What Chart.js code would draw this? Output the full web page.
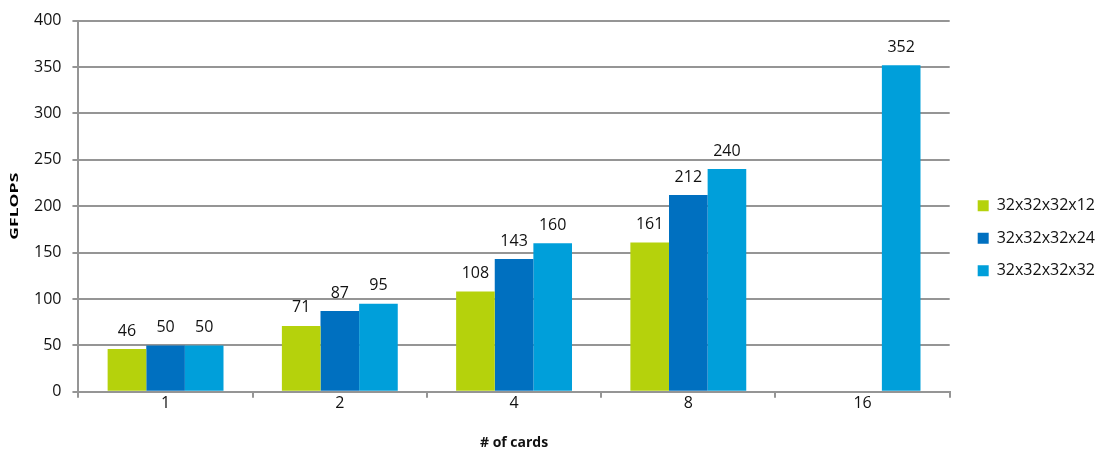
<!DOCTYPE html>
<html>
<head>
<meta charset="utf-8">
<script src="https://cdn.jsdelivr.net/npm/chart.js@4/dist/chart.umd.min.js"></script>
<style>
  html, body { margin: 0; padding: 0; background: #fff; }
  #wrap { width: 1106px; height: 450px; }
</style>
</head>
<body>
<div id="wrap"><canvas id="myChart"></canvas></div>
<script>
  // chart data
  const cards = ['1', '2', '4', '8', '16'];
  const seriesNames = ['32x32x32x12', '32x32x32x24', '32x32x32x32'];
  const gflops12 = [46, 71, 108, 161, null];
  const gflops24 = [50, 87, 143, 212, null];
  const gflops32 = [50, 95, 160, 240, 352];
  const yTicks = [0, 50, 100, 150, 200, 250, 300, 350, 400];
  const yTitle = 'GFLOPS';

  const colors = ['#b5d20c', '#0070c0', '#009fda'];
  const FONT = "'Open Sans', 'Noto Sans', sans-serif";
  const LINE = '#959595';

  /* draws the value above each bar */
  const valueLabels = {
    id: 'valueLabels',
    afterDatasetsDraw(chart) {
      const ctx = chart.ctx;
      ctx.save();
      ctx.font = '16px ' + FONT;
      ctx.fillStyle = '#111';
      ctx.textAlign = 'center';
      ctx.textBaseline = 'bottom';
      chart.data.datasets.forEach((ds, i) => {
        const meta = chart.getDatasetMeta(i);
        meta.data.forEach((bar, j) => {
          if (ds.data[j] === null) return;
          ctx.fillText(String(ds.data[j]), bar.x, bar.y - 10);
        });
      });
      ctx.restore();
    }
  };

  /* squashed bold y title like the original */
  const stretchedTitle = {
    id: 'stretchedTitle',
    afterDraw(chart) {
      const ctx = chart.ctx;
      const area = chart.chartArea;
      ctx.save();
      ctx.translate(15, (area.top + area.bottom) / 2);
      ctx.rotate(-Math.PI / 2);
      ctx.scale(1.6, 1);
      ctx.font = 'bold 11px ' + FONT;
      ctx.fillStyle = '#000';
      ctx.textAlign = 'center';
      ctx.textBaseline = 'middle';
      ctx.fillText(yTitle, 0, 0);
      ctx.restore();
    }
  };

  function initChart(target) {
    const sets = [gflops12, gflops24, gflops32].map((d, i) => ({
      label: seriesNames[i],
      data: d,
      backgroundColor: colors[i],
      borderWidth: 0,
      categoryPercentage: 0.665,
      barPercentage: 1
    }));

    return new Chart(target, {
      type: 'bar',
      data: { labels: cards, datasets: sets },
      options: {
        responsive: true,
        maintainAspectRatio: false,
        animation: false,
        layout: { padding: { top: 12, right: 1, left: 23, bottom: 0 } },
        plugins: {
          tooltip: { enabled: false },
          legend: {
            position: 'right',
            align: 'center',
            title: { display: true, text: '', padding: 0 },
            labels: {
              boxWidth: 11,
              boxHeight: 11,
              padding: 16.5,
              color: '#111',
              font: { family: FONT, size: 16 }
            }
          }
        },
        scales: {
          x: {
            offset: true,
            grid: {
              offset: true,
              drawOnChartArea: false,
              drawTicks: true,
              tickLength: 6,
              color: LINE,
              lineWidth: 2
            },
            border: { color: LINE, width: 2 },
            ticks: { color: '#111', font: { family: FONT, size: 16 }, padding: -4 },
            title: {
              display: true,
              text: '# of cards',
              color: '#111',
              font: { family: FONT, size: 14, weight: 'bold', lineHeight: 1 },
              padding: { top: 27, bottom: 0 }
            }
          },
          y: {
            min: 0,
            max: 400,
            afterBuildTicks: (axis) => { axis.ticks = yTicks.map(v => ({ value: v })); },
            grid: { color: LINE, lineWidth: 2, tickLength: 6 },
            border: { color: LINE, width: 2 },
            ticks: { color: '#111', font: { family: FONT, size: 16 }, padding: 11 },
            title: { display: false }
          },
          // empty spacer between plot and legend
          gap: {
            type: 'linear',
            position: 'right',
            display: true,
            grid: { display: false, drawTicks: false },
            border: { display: false },
            ticks: { display: false },
            afterFit: (axis) => { axis.width = 11.5; }
          }
        }
      },
      plugins: [valueLabels, stretchedTitle]
    });
  }

  document.addEventListener('DOMContentLoaded', () => {
    initChart(document.querySelector('#myChart'));
  });
</script>
</body>
</html>
